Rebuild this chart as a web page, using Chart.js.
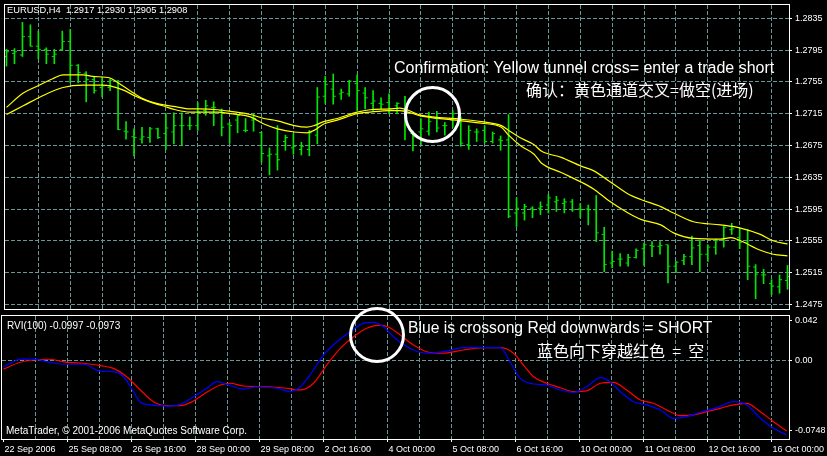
<!DOCTYPE html>
<html>
<head>
<meta charset="utf-8">
<script src="https://cdn.jsdelivr.net/npm/chart.js@4.4.1/dist/chart.umd.min.js"></script>
<style>
  html, body { margin: 0; padding: 0; background: #000; }
  #wrap { position: relative; width: 827px; height: 456px; overflow: hidden; background: #000; }
  canvas { position: absolute; left: 0; }
  #main { top: 0; }
  #rvi { top: 314px; }
  .note { position: absolute; color: #fff; white-space: pre; line-height: 1; font-family: "Liberation Sans", Arial, sans-serif; }
  .cjk { font-family: "Noto Sans CJK SC", sans-serif; }
  .ring { position: absolute; border: 3px solid #fff; border-radius: 50%; box-sizing: border-box; z-index: 5; }
</style>
</head>
<body>
<div id="wrap">
  <canvas id="main" width="827" height="314"></canvas>
  <canvas id="rvi" width="827" height="142"></canvas>

  <div class="note" style="left:7px;top:6px;font-size:9.3px;">EURUSD,H4  1.2917 1.2930 1.2905 1.2908</div>
  <div class="note" style="left:394px;top:60px;font-size:16px;">Confirmation: Yellow tunnel cross= enter a trade short</div>
  <div class="note cjk" style="left:526px;top:81px;font-size:16px;">确认：黄色通道交叉=做空(进场)</div>
  <div class="note" style="left:7px;top:320.5px;font-size:10px;">RVI(100) -0.0997 -0.0973</div>
  <div class="note" style="left:408px;top:319.5px;font-size:15.7px;">Blue is crossong Red downwards = SHORT</div>
  <div class="note cjk" style="left:537px;top:342px;font-size:16px;">蓝色向下穿越红色  =  空</div>
  <div class="note" style="left:6px;top:426px;font-size:10px;">MetaTrader, © 2001-2006 MetaQuotes Software Corp.</div>

  <div class="ring" style="left:404px;top:86px;width:57px;height:57px;"></div>
  <div class="ring" style="left:349px;top:307px;width:56px;height:56px;"></div>
</div>

<script>
// EURUSD H4 bars, 22 Sep 2006 00:00 .. 16 Oct 2006 08:00
const barOpen = [
  1.2787, 1.2791, 1.2789, 1.2812, 1.2800, 1.2796, 1.2787, 1.2796, 1.2806, 1.2776,
  1.2766, 1.2758, 1.2748, 1.2748, 1.2756, 1.2693, 1.2686, 1.2683, 1.2685, 1.2696,
  1.2690, 1.2692, 1.2700, 1.2700, 1.2700, 1.2719, 1.2723, 1.2719, 1.2702, 1.2707,
  1.2694, 1.2707, 1.2691, 1.2662, 1.2664, 1.2680, 1.2672, 1.2670, 1.2670, 1.2688,
  1.2737, 1.2746, 1.2740, 1.2740, 1.2753, 1.2741, 1.2728, 1.2728, 1.2729, 1.2725,
  1.2719, 1.2690, 1.2692, 1.2693, 1.2709, 1.2700, 1.2707, 1.2707, 1.2676, 1.2692,
  1.2694, 1.2680, 1.2682, 1.2682, 1.2590, 1.2590, 1.2596, 1.2596, 1.2600, 1.2604,
  1.2602, 1.2604, 1.2595, 1.2595, 1.2594, 1.2563, 1.2527, 1.2532, 1.2527, 1.2534,
  1.2545, 1.2549, 1.2548, 1.2550, 1.2523, 1.2530, 1.2535, 1.2549, 1.2538, 1.2547,
  1.2557, 1.2569, 1.2559, 1.2553, 1.2522, 1.2512, 1.2501, 1.2497, 1.2505
];
const barHigh = [
  1.2796, 1.2797, 1.2830, 1.2827, 1.2819, 1.2798, 1.2796, 1.2819, 1.2821, 1.2777,
  1.2768, 1.2762, 1.2761, 1.2759, 1.2757, 1.2705, 1.2696, 1.2698, 1.2698, 1.2697,
  1.2715, 1.2716, 1.2716, 1.2711, 1.2729, 1.2732, 1.2730, 1.2721, 1.2704, 1.2713,
  1.2709, 1.2715, 1.2692, 1.2672, 1.2700, 1.2688, 1.2690, 1.2679, 1.2694, 1.2748,
  1.2762, 1.2765, 1.2746, 1.2757, 1.2764, 1.2748, 1.2744, 1.2735, 1.2740, 1.2729,
  1.2737, 1.2693, 1.2709, 1.2717, 1.2718, 1.2704, 1.2719, 1.2711, 1.2700, 1.2696,
  1.2700, 1.2692, 1.2687, 1.2714, 1.2609, 1.2601, 1.2598, 1.2604, 1.2613, 1.2611,
  1.2608, 1.2607, 1.2602, 1.2600, 1.2612, 1.2572, 1.2542, 1.2539, 1.2538, 1.2545,
  1.2552, 1.2554, 1.2554, 1.2550, 1.2529, 1.2538, 1.2561, 1.2556, 1.2550, 1.2557,
  1.2573, 1.2577, 1.2571, 1.2569, 1.2525, 1.2519, 1.2506, 1.2512, 1.2524
];
const barLow = [
  1.2775, 1.2778, 1.2787, 1.2800, 1.2784, 1.2778, 1.2778, 1.2795, 1.2754, 1.2754,
  1.2730, 1.2741, 1.2736, 1.2744, 1.2695, 1.2683, 1.2662, 1.2678, 1.2679, 1.2684,
  1.2670, 1.2677, 1.2675, 1.2695, 1.2694, 1.2713, 1.2700, 1.2687, 1.2678, 1.2691,
  1.2692, 1.2693, 1.2654, 1.2638, 1.2644, 1.2669, 1.2664, 1.2663, 1.2662, 1.2677,
  1.2728, 1.2727, 1.2733, 1.2737, 1.2719, 1.2721, 1.2719, 1.2721, 1.2715, 1.2715,
  1.2682, 1.2668, 1.2676, 1.2688, 1.2692, 1.2688, 1.2698, 1.2674, 1.2670, 1.2680,
  1.2678, 1.2678, 1.2669, 1.2584, 1.2573, 1.2581, 1.2584, 1.2588, 1.2590, 1.2592,
  1.2590, 1.2592, 1.2584, 1.2575, 1.2554, 1.2516, 1.2521, 1.2523, 1.2523, 1.2533,
  1.2524, 1.2535, 1.2538, 1.2502, 1.2515, 1.2525, 1.2525, 1.2516, 1.2529, 1.2538,
  1.2547, 1.2563, 1.2545, 1.2506, 1.2482, 1.2501, 1.2487, 1.2489, 1.2494
];
const barClose = [
  1.2793, 1.2793, 1.2812, 1.2800, 1.2796, 1.2790, 1.2790, 1.2806, 1.2776, 1.2767,
  1.2758, 1.2744, 1.2750, 1.2757, 1.2695, 1.2692, 1.2685, 1.2686, 1.2696, 1.2685,
  1.2697, 1.2700, 1.2700, 1.2700, 1.2717, 1.2725, 1.2723, 1.2698, 1.2700, 1.2713,
  1.2694, 1.2709, 1.2665, 1.2664, 1.2657, 1.2685, 1.2674, 1.2674, 1.2691, 1.2736,
  1.2752, 1.2737, 1.2742, 1.2756, 1.2744, 1.2735, 1.2731, 1.2727, 1.2721, 1.2728,
  1.2716, 1.2686, 1.2696, 1.2705, 1.2697, 1.2700, 1.2715, 1.2678, 1.2694, 1.2692,
  1.2680, 1.2690, 1.2681, 1.2586, 1.2596, 1.2598, 1.2594, 1.2598, 1.2609, 1.2606,
  1.2604, 1.2594, 1.2594, 1.2594, 1.2565, 1.2525, 1.2529, 1.2532, 1.2534, 1.2543,
  1.2550, 1.2548, 1.2549, 1.2523, 1.2528, 1.2535, 1.2546, 1.2538, 1.2547, 1.2555,
  1.2572, 1.2570, 1.2553, 1.2523, 1.2513, 1.2512, 1.2498, 1.2506, 1.2510
];

// Yellow tunnel (two moving averages), x = bar number
const tunnelFastX = [0, 2.1, 3.7, 5.8, 7.1, 9.6, 10.8, 13, 13.7, 15.5, 17.1, 19.2, 21.2, 23, 24.2, 26.5, 28.1, 30.6, 32.3, 34, 36.1, 37.7, 38.6, 39.8, 41.5, 44, 45.6, 48.1, 49.3, 52.1, 57.1, 59.6, 62.1, 63, 64.6, 66.2, 67.1, 69.6, 72.1, 73.7, 75.5, 78, 79.6, 82.1, 83.7, 86.2, 89.6, 92.1, 94.6, 96.2, 98];
const tunnelFast = [1.2723, 1.2741, 1.2749, 1.2759, 1.2764, 1.2764, 1.2762, 1.2760, 1.2756, 1.2744, 1.2734, 1.2727, 1.2724, 1.2721, 1.2721, 1.2720, 1.2718, 1.2714, 1.2709, 1.2706, 1.2700, 1.2698, 1.2700, 1.2705, 1.2709, 1.2717, 1.2720, 1.2721, 1.2722, 1.2713, 1.2708, 1.2705, 1.2700, 1.2694, 1.2684, 1.2676, 1.2668, 1.2660, 1.2649, 1.2643, 1.2631, 1.2614, 1.2607, 1.2598, 1.2590, 1.2579, 1.2575, 1.2571, 1.2563, 1.2555, 1.2551];
const tunnelSlowX = [0, 2.1, 4.6, 7.1, 9.6, 12.1, 13, 14.6, 16.2, 17.9, 19.6, 21.2, 23, 24.6, 26.5, 28.1, 30.6, 32.3, 34, 36.1, 37.7, 38.6, 39.8, 41.5, 44, 45.6, 48.1, 49.3, 52.1, 57.1, 59.6, 62.1, 63, 64.6, 66.2, 67.1, 69.6, 72.1, 73.7, 75.5, 78, 79.6, 82.1, 83.7, 86.2, 89.6, 90.9, 92.1, 94.6, 96.2, 98];
const tunnelSlow = [1.2714, 1.2725, 1.2738, 1.2748, 1.2751, 1.2751, 1.2750, 1.2745, 1.2737, 1.2730, 1.2725, 1.2720, 1.2717, 1.2717, 1.2717, 1.2715, 1.2711, 1.2702, 1.2696, 1.2692, 1.2691, 1.2694, 1.2702, 1.2707, 1.2715, 1.2717, 1.2719, 1.2719, 1.2712, 1.2706, 1.2703, 1.2698, 1.2688, 1.2674, 1.2664, 1.2653, 1.2641, 1.2629, 1.2620, 1.2606, 1.2590, 1.2582, 1.2575, 1.2565, 1.2558, 1.2557, 1.2559, 1.2555, 1.2543, 1.2538, 1.2536];

// RVI(100) panel, x = bar number
const rviBlueX = [0, 1.25, 2.1, 3.75, 5.8, 7.9, 10, 12.1, 13.75, 15, 16.25, 17.1, 18.3, 20.4, 22.1, 23.75, 25.4, 26.7, 27.9, 30, 31.7, 34.2, 35.8, 37.1, 38.3, 40, 41.7, 43.3, 45, 46.25, 47.5, 48.75, 49.6, 51.25, 52.9, 55, 57.5, 60, 62.1, 63.3, 64.6, 66.25, 67.9, 69.6, 71.25, 72.9, 74.6, 75.8, 77.1, 78.75, 80.4, 82.1, 83.75, 85.4, 87.1, 89.2, 91.25, 92.9, 94.6, 96.25, 97.9];
const rviBlue = [-0.0069, -0.0016, 0.0012, 0.0012, -0.0022, -0.0043, -0.0043, -0.0115, -0.0121, -0.0175, -0.0333, -0.0446, -0.0473, -0.0485, -0.0467, -0.0387, -0.0297, -0.0227, -0.0255, -0.0305, -0.0281, -0.0297, -0.0333, -0.0281, -0.0157, 0.0055, 0.0196, 0.0302, 0.0390, 0.0401, 0.0354, 0.0248, 0.0190, 0.0108, 0.0074, 0.0090, 0.0133, 0.0133, 0.0133, -0.0016, -0.0192, -0.0252, -0.0263, -0.0315, -0.0340, -0.0281, -0.0185, -0.0227, -0.0333, -0.0439, -0.0473, -0.0527, -0.0615, -0.0598, -0.0551, -0.0502, -0.0439, -0.0473, -0.0615, -0.0721, -0.0791];
const rviRedX = [0, 2.1, 3.75, 5.8, 7.9, 10, 12.1, 13.75, 15.4, 17.1, 18.75, 20.4, 22.1, 23.75, 25.4, 27.1, 28.3, 30, 32.9, 35.4, 37.1, 38.75, 40.4, 42.1, 43.75, 45.4, 47.1, 48.3, 49.6, 51.25, 52.9, 55, 57.5, 60, 62.1, 63.75, 65, 66.25, 67.9, 69.6, 71.25, 72.9, 74.6, 76.25, 77.9, 79.6, 81.25, 82.9, 84.6, 86.25, 87.9, 89.6, 91.25, 92.9, 94.6, 96.25, 97.9];
const rviRed = [-0.0094, -0.0022, 0.0002, 0.0010, -0.0022, -0.0032, -0.0058, -0.0086, -0.0175, -0.0315, -0.0439, -0.0481, -0.0481, -0.0431, -0.0340, -0.0263, -0.0244, -0.0273, -0.0281, -0.0297, -0.0315, -0.0244, -0.0051, 0.0126, 0.0248, 0.0338, 0.0372, 0.0344, 0.0266, 0.0160, 0.0090, 0.0074, 0.0108, 0.0133, 0.0133, 0.0074, -0.0051, -0.0175, -0.0244, -0.0291, -0.0333, -0.0325, -0.0244, -0.0234, -0.0315, -0.0421, -0.0456, -0.0527, -0.0587, -0.0579, -0.0545, -0.0509, -0.0473, -0.0456, -0.0545, -0.0651, -0.0749];

// Axis labels
const priceTicks = [1.2835, 1.2795, 1.2755, 1.2715, 1.2675, 1.2635, 1.2595, 1.2555, 1.2515, 1.2475];
const rviTicks = [0.042, 0, -0.0748];
const rviTickLabels = ['0.042', '0.00', '-0.0748'];
const timeLabels = [
  '22 Sep 2006', '25 Sep 08:00', '26 Sep 16:00', '28 Sep 00:00', '29 Sep 08:00',
  '2 Oct 16:00', '4 Oct 00:00', '5 Oct 08:00', '6 Oct 16:00', '10 Oct 00:00',
  '11 Oct 08:00', '12 Oct 16:00', '16 Oct 00:00'
];

const barColor = 'rgb(0, 230, 0)';
const gridColor = 'rgb(105, 150, 150)';
const clear = 'rgba(0,0,0,0)';
const xMin = -0.1875, xMax = 98.1875;
const tickShift = 0.1875;

Chart.defaults.font.family = '"Liberation Sans", Arial, sans-serif';
Chart.defaults.color = '#fff';
Chart.defaults.animation = false;

// White box round the plot area, like the terminal window
const framePlugin = {
  id: 'frame',
  afterDraw(chart) {
    const { ctx, chartArea: a } = chart;
    ctx.save();
    ctx.strokeStyle = '#fff';
    ctx.lineWidth = 1;
    ctx.strokeRect(a.left - 0.5, a.top - 0.5, a.right - a.left + 1, a.bottom - a.top + 1);
    ctx.restore();
  }
};

function pairs(xs, ys) {
  return xs.map((x, i) => ({ x: x, y: ys[i] }));
}

// vertical grid every 4 bars
function gridTicks(from) {
  const out = [];
  for (let v = from; v <= 96; v += 4) out.push({ value: v });
  return out;
}

// fixed axis box, no extra room for half labels
function fixBox(w, h) {
  return (s) => {
    if (w !== null) s.width = w;
    if (h !== null) s.height = h;
    s.paddingTop = 0; s.paddingBottom = 0;
    s.paddingLeft = 0; s.paddingRight = 0;
  };
}

/**
 * Price panel
 */
const priceBars = barHigh.map((h, i) => ({ x: i, y: [barLow[i], h] }));
const openTicks = barOpen.map((o, i) => ({ x: i - tickShift, y: o }));
const closeTicks = barClose.map((c, i) => ({ x: i + tickShift, y: c }));

new Chart(document.getElementById('main'), {
  type: 'bar',
  data: {
    datasets: [
      { type: 'line', data: pairs(tunnelFastX, tunnelFast), borderColor: '#ffff00', borderWidth: 1.2, pointRadius: 0, cubicInterpolationMode: 'monotone', order: 0 },
      { type: 'line', data: pairs(tunnelSlowX, tunnelSlow), borderColor: '#ffff00', borderWidth: 1.2, pointRadius: 0, cubicInterpolationMode: 'monotone', order: 0 },
      { type: 'line', data: openTicks, showLine: false, pointStyle: 'line', pointRadius: 1, pointBorderWidth: 1, pointBorderColor: barColor, order: 1 },
      { type: 'line', data: closeTicks, showLine: false, pointStyle: 'line', pointRadius: 1, pointBorderWidth: 1, pointBorderColor: barColor, order: 1 },
      { type: 'bar', data: priceBars, backgroundColor: barColor, borderWidth: 0, barThickness: 1, grouped: false, order: 2 }
    ]
  },
  options: {
    responsive: false,
    events: [],
    layout: { padding: { left: 2, top: 2, right: 0, bottom: 1 } },
    plugins: { legend: { display: false }, tooltip: { enabled: false } },
    scales: {
      x: {
        type: 'linear', min: xMin, max: xMax, offset: false,
        afterBuildTicks: (s) => { s.ticks = gridTicks(4); },
        afterFit: fixBox(null, 0),
        ticks: { display: false },
        grid: { color: gridColor, drawTicks: false, offset: false },
        border: { display: false, dash: [4, 2] }
      },
      y: {
        position: 'right', min: 1.24691, max: 1.28519,
        afterBuildTicks: (s) => { s.ticks = priceTicks.map(v => ({ value: v })); },
        afterFit: fixBox(38, null),
        ticks: { font: { size: 9 }, padding: 3, callback: (v) => v.toFixed(4) },
        grid: { color: gridColor, tickColor: '#fff', tickLength: 3, tickBorderDash: [] },
        border: { display: false, dash: [4, 2] }
      }
    }
  },
  plugins: [framePlugin]
});

/**
 * RVI panel
 */
new Chart(document.getElementById('rvi'), {
  type: 'line',
  data: {
    datasets: [
      { data: pairs(rviBlueX, rviBlue), borderColor: '#0000ff', borderWidth: 1.2, pointRadius: 0, cubicInterpolationMode: 'monotone' },
      { data: pairs(rviRedX, rviRed), borderColor: '#ff0000', borderWidth: 1.2, pointRadius: 0, cubicInterpolationMode: 'monotone' }
    ]
  },
  options: {
    responsive: false,
    events: [],
    layout: { padding: { left: 2, top: 2, right: 0, bottom: 0 } },
    plugins: { legend: { display: false }, tooltip: { enabled: false } },
    scales: {
      x: {
        type: 'linear', min: xMin, max: xMax, offset: false,
        afterBuildTicks: (s) => { s.ticks = gridTicks(0); },
        afterFit: fixBox(null, 17),
        ticks: {
          font: { size: 9 }, padding: 2, align: 'start', labelOffset: 1,
          maxRotation: 0, autoSkip: false,
          callback: (v) => (v % 8 === 0 ? timeLabels[v / 8] : '')
        },
        grid: {
          color: (c) => (c.tick && c.tick.value === 0 ? clear : gridColor),
          tickColor: (c) => (c.tick && c.tick.value % 8 === 0 ? '#fff' : clear),
          tickLength: 3, tickBorderDash: [], offset: false
        },
        border: { display: false, dash: [4, 2] }
      },
      y: {
        position: 'right', min: -0.0834, max: 0.0468,
        afterBuildTicks: (s) => { s.ticks = rviTicks.map(v => ({ value: v })); },
        afterFit: fixBox(38, null),
        ticks: { font: { size: 9 }, padding: 3, callback: (v, i) => rviTickLabels[i] },
        grid: {
          color: (c) => (c.tick && c.tick.value === 0 ? gridColor : clear),
          tickColor: '#fff', tickLength: 3, tickBorderDash: []
        },
        border: { display: false, dash: [4, 2] }
      }
    }
  },
  plugins: [framePlugin]
});
</script>
</body>
</html>
